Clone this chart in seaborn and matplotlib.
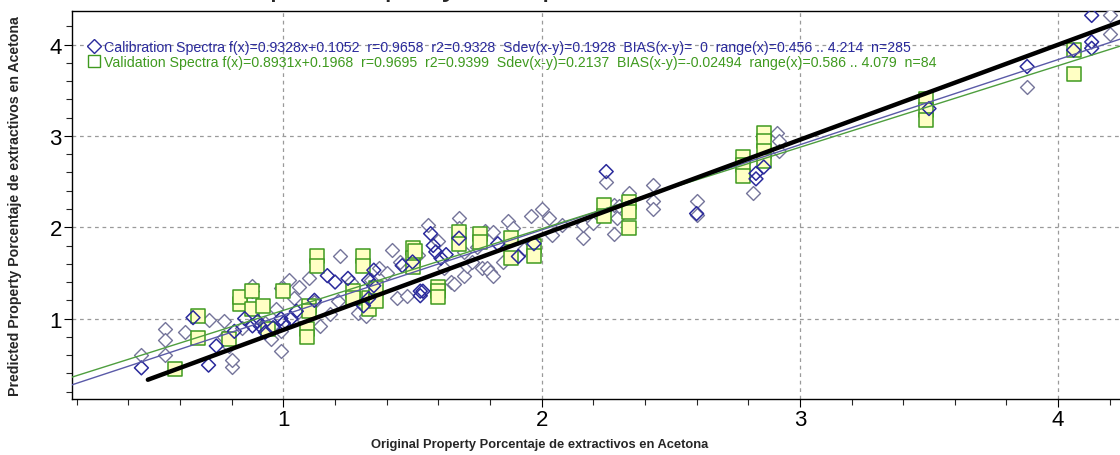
import matplotlib
matplotlib.use("Agg")
import matplotlib.pyplot as plt
from matplotlib.lines import Line2D
from matplotlib.ticker import MultipleLocator
import seaborn as sns
import pandas as pd
import numpy as np

# calibration spectra, lighter grey-blue diamonds
cal_x = [0.45, 0.54, 0.54, 0.54, 0.62, 0.71, 0.77, 0.77, 0.79, 0.80, 0.80, 0.84, 0.88, 0.88,
         0.93, 0.95, 0.97, 0.99, 0.99, 0.99, 1.02, 1.04, 1.06, 1.08, 1.10, 1.12, 1.14, 1.18,
         1.21, 1.22, 1.26, 1.29, 1.32, 1.34, 1.37, 1.40, 1.42, 1.44, 1.45, 1.48, 1.52, 1.56,
         1.60, 1.62, 1.65, 1.66, 1.68, 1.68, 1.70, 1.70, 1.71, 1.73, 1.75, 1.77, 1.78, 1.79,
         1.80, 1.81, 1.81, 1.85, 1.87, 1.89, 1.93, 1.96, 2.00, 2.03, 2.04, 2.08, 2.16, 2.16,
         2.20, 2.25, 2.28, 2.28, 2.29, 2.30, 2.34, 2.43, 2.43, 2.43, 2.60, 2.60, 2.82, 2.91,
         2.92, 2.92, 3.88, 4.20, 4.20]
cal_y = [0.60, 0.89, 0.76, 0.60, 0.85, 0.98, 0.97, 0.80, 0.70, 0.47, 0.55, 0.90, 1.36, 1.30,
         0.95, 0.78, 1.10, 1.33, 0.86, 0.64, 1.42, 1.22, 1.35, 0.98, 1.44, 1.18, 0.92, 1.05,
         1.19, 1.69, 1.40, 1.06, 1.03, 1.42, 1.55, 1.50, 1.75, 1.22, 1.62, 1.25, 1.70, 2.02,
         1.85, 1.55, 1.40, 1.38, 2.10, 1.99, 1.73, 1.47, 1.58, 1.62, 1.78, 1.55, 1.96, 1.55,
         1.51, 1.95, 1.47, 1.62, 2.07, 1.99, 1.76, 2.12, 2.20, 2.10, 1.91, 2.02, 1.88, 2.02,
         2.05, 2.50, 2.24, 1.93, 2.10, 2.23, 2.37, 2.46, 2.29, 2.20, 2.29, 2.13, 2.37, 3.03,
         2.94, 2.83, 3.54, 4.32, 4.12]

# calibration spectra, darker navy diamonds
cal_dark_x = [0.45, 0.65, 0.71, 0.74, 0.81, 0.85, 0.88, 0.90, 0.91, 0.93, 0.96, 0.99, 1.00,
              1.03, 1.05, 1.12, 1.17, 1.20, 1.25, 1.31, 1.33, 1.33, 1.35, 1.35, 1.46, 1.50,
              1.53, 1.53, 1.54, 1.57, 1.58, 1.59, 1.61, 1.63, 1.68, 1.83, 1.91, 1.97, 2.25,
              2.60, 2.83, 2.83, 2.86, 3.50, 3.88, 4.06, 4.13, 4.13, 4.13]
cal_dark_y = [0.46, 1.01, 0.49, 0.70, 0.86, 1.00, 0.92, 0.97, 0.92, 0.85, 0.90, 1.00, 0.95,
              1.00, 1.08, 1.20, 1.47, 1.40, 1.44, 1.14, 1.42, 1.22, 1.53, 1.36, 1.58, 1.62,
              1.30, 1.25, 1.30, 1.93, 1.80, 1.73, 1.66, 1.70, 1.88, 1.82, 1.68, 1.82, 2.61,
              2.15, 2.59, 2.53, 2.66, 3.30, 3.76, 3.94, 4.03, 3.96, 4.32]

# validation spectra, green squares
val_x = [0.58, 0.67, 0.67, 0.79, 0.83, 0.83, 0.88, 0.88, 0.92, 0.94, 1.00, 1.09, 1.09, 1.10,
         1.10, 1.13, 1.13, 1.27, 1.27, 1.31, 1.31, 1.33, 1.33, 1.36, 1.36, 1.50, 1.50, 1.50,
         1.51, 1.60, 1.60, 1.60, 1.68, 1.68, 1.76, 1.76, 1.88, 1.88, 1.97, 1.97, 2.24, 2.24,
         2.34, 2.34, 2.34, 2.78, 2.78, 2.78, 2.86, 2.86, 2.86, 2.86, 3.49, 3.49, 3.49, 4.06,
         4.06]
val_y = [0.45, 1.03, 0.79, 0.78, 1.16, 1.24, 1.30, 1.11, 1.14, 0.89, 1.30, 0.89, 0.80, 1.14,
         1.08, 1.69, 1.58, 1.30, 1.22, 1.68, 1.58, 1.22, 1.11, 1.33, 1.19, 1.77, 1.66, 1.57,
         1.74, 1.35, 1.30, 1.24, 1.95, 1.82, 1.93, 1.84, 1.88, 1.66, 1.79, 1.68, 2.24, 2.12,
         2.28, 2.17, 1.99, 2.77, 2.68, 2.56, 3.03, 2.95, 2.84, 2.73, 3.41, 3.28, 3.17, 3.94,
         3.68]

# fitted lines as reported in the legend
cal_fit = (0.9328, 0.1052)
val_fit = (0.8931, 0.1968)
# thick reference line
ref_x = [0.475, 4.26]
ref_y = [0.33, 4.27]

cal_label = ("Calibration Spectra f(x)=0.9328x+0.1052  r=0.9658  r2=0.9328  Sdev(x-y)=0.1928  "
             "BIAS(x-y)=  0  range(x)=0.456 .. 4.214  n=285")
val_label = ("Validation Spectra f(x)=0.8931x+0.1968  r=0.9695  r2=0.9399  Sdev(x-y)=0.2137  "
             "BIAS(x-y)=-0.02494  range(x)=0.586 .. 4.079  n=84")

NAVY = "#2a2a9c"
GREY = "#74749a"
GREEN = "#3f9a1f"
LINE_BLUE = "#5a5aa8"
LINE_GREEN = "#4e9e3e"

sns.set_style("white")
plt.rcParams["font.family"] = ["Liberation Sans", "DejaVu Sans"]

fig = plt.figure(figsize=(11.2, 4.56), dpi=100)
# right edge of the frame runs just past the picture, as in the original
ax = fig.add_axes([0.064, 0.123, 0.94, 0.851])

xmin, xmax = 0.18, 4.257
ax.set_xlim(xmin, xmax)
ax.set_ylim(0.12, 4.37)

cal_df = pd.DataFrame({"x": cal_x, "y": cal_y})
dark_df = pd.DataFrame({"x": cal_dark_x, "y": cal_dark_y})
val_df = pd.DataFrame({"x": val_x, "y": val_y})

sns.scatterplot(data=cal_df, x="x", y="y", marker="D", s=50, facecolor="white",
                edgecolor=GREY, linewidth=1.0, ax=ax, zorder=3)
sns.scatterplot(data=val_df, x="x", y="y", marker="s", s=95, facecolor="#ffffc4",
                edgecolor=GREEN, linewidth=1.1, ax=ax, zorder=4)
sns.scatterplot(data=dark_df, x="x", y="y", marker="D", s=50, facecolor="none",
                edgecolor=NAVY, linewidth=1.1, ax=ax, zorder=5)

xs = np.array([xmin, xmax])
ax.plot(xs, cal_fit[0] * xs + cal_fit[1], color=LINE_BLUE, lw=1.0, zorder=6)
ax.plot(xs, val_fit[0] * xs + val_fit[1], color=LINE_GREEN, lw=1.0, zorder=6)
sns.lineplot(x=ref_x, y=ref_y, color="black", lw=3.2, ax=ax, zorder=7)

# grid and ticks
ax.xaxis.set_major_locator(MultipleLocator(1))
ax.xaxis.set_minor_locator(MultipleLocator(0.2))
ax.yaxis.set_major_locator(MultipleLocator(1))
ax.yaxis.set_minor_locator(MultipleLocator(0.2))
ax.grid(True, which="major", linestyle=(0, (3, 3)), color="#9a9a9a", lw=0.9)
ax.set_axisbelow(True)
ax.tick_params(which="major", direction="out", length=6, width=0.8, labelsize=16,
               bottom=True, left=True, colors="black", pad=1)
ax.tick_params(which="minor", direction="out", length=4, width=0.8, bottom=True, left=True)
for sp in ax.spines.values():
    sp.set_color("black")
    sp.set_linewidth(1.0)

ax.set_xlabel("")
ax.set_ylabel("")
fig.text(540 / 1120, 1 - 445 / 456, "Original Property Porcentaje de extractivos en Acetona",
         ha="center", va="center", fontsize=9.3, fontweight="bold")
fig.text(15 / 1120, 1 - 396 / 456, "Predicted Property Porcentaje de extractivos en Acetona",
         ha="center", va="bottom", rotation=90, fontsize=10.2, fontweight="bold")

# title, mostly cut off by the top edge in the original
fig.text(395 / 1120, 1.029, "Scatter plot Property vs. Spectra", ha="center", va="center",
         fontsize=24)

handles = [
    Line2D([], [], marker="D", ls="none", markersize=7, markerfacecolor="white",
           markeredgecolor=NAVY),
    Line2D([], [], marker="s", ls="none", markersize=9, markerfacecolor="white",
           markeredgecolor=GREEN),
]
leg = ax.legend(handles, [cal_label, val_label], loc="upper left",
                bbox_to_anchor=(0.008, 0.94), frameon=False, fontsize=10.2,
                handletextpad=0.1, labelspacing=0.05, handlelength=1.2, borderaxespad=0)
for txt, c in zip(leg.get_texts(), [NAVY, GREEN]):
    txt.set_color(c)

fig.savefig("out.png", dpi=100)
